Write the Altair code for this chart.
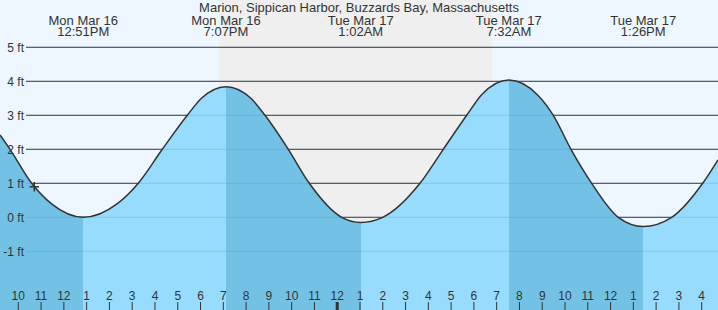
import altair as alt
import pandas as pd

TITLE = "Marion, Sippican Harbor, Buzzards Bay, Massachusetts"

# tide curve: hours since Mon Mar 16 00:00, height in ft
hours = [9.197, 9.636, 10.589, 11.45, 12.85, 14.35, 15.268, 16.322, 17.419, 18.04,
         19.117, 20.21, 20.830, 21.853, 22.775, 24.197, 25.033, 25.997, 27.634,
         28.657, 29.684, 30.33, 31.533, 32.80, 33.486, 34.263, 35.172, 36.339,
         37.433, 38.684, 40.045, 40.716]
heights = [2.42, 2.0, 1.0, 0.4, 0.0, 0.4, 1.0, 2.0, 3.0, 3.5,
           3.84, 3.5, 3.0, 2.0, 1.0, 0.0, -0.15, 0.0, 1.0,
           2.0, 3.0, 3.6, 4.04, 3.6, 3.0, 2.0, 1.0, 0.0,
           -0.27, 0.0, 1.0, 1.69]

event_hours = [12.85, 19.117, 25.033, 31.533, 37.433]
event_heights = [0.0, 3.84, -0.15, 4.04, -0.27]
event_day = ["Mon Mar 16", "Mon Mar 16", "Tue Mar 17", "Tue Mar 17", "Tue Mar 17"]
event_time = ["12:51PM", "7:07PM", "1:02AM", "7:32AM", "1:26PM"]

night_start, night_end = 18.81, 30.826
tick_hours = list(range(10, 41))
feet = [5, 4, 3, 2, 1, 0, -1]
now_hour, now_height = 10.703, 0.90

X_DOMAIN = [9.197, 40.716]
Y_DOMAIN = [-2.726, 6.391]
W, H = 718, 310
FONT = "Liberation Sans"
TXT = "#333333"
DAY = "#EEF7FF"
NIGHT = "#EFEFEF"
LIGHT = "#97DCFD"
DARK = "#73C2E6"

xs = alt.Scale(domain=X_DOMAIN, range=[0, W], nice=False, zero=False)
ys = alt.Scale(domain=Y_DOMAIN, range=[H, 0], nice=False, zero=False)

def X(field):
    return alt.X(field, scale=xs, axis=None)

def Y(field):
    return alt.Y(field, scale=ys, axis=None, stack=None)

curve = pd.DataFrame({"t": hours, "h": heights})

# water fill: darker while the tide falls, lighter while it rises (hard gradient stops
# placed at the high / low water times)
span = hours[-1] - hours[0]
levels = [heights[0]] + event_heights + [heights[-1]]
times = [hours[0]] + event_hours + [hours[-1]]
stops = []
for k in range(len(times) - 1):
    col = DARK if levels[k + 1] < levels[k] else LIGHT
    stops.append(alt.GradientStop(color=col, offset=(times[k] - hours[0]) / span))
    stops.append(alt.GradientStop(color=col, offset=(times[k + 1] - hours[0]) / span))
water_fill = alt.LinearGradient(gradient="linear", stops=stops, x1=0, x2=1, y1=0, y2=0)

bands = pd.DataFrame({
    "start": [X_DOMAIN[0], night_start, night_end],
    "end": [night_start, night_end, X_DOMAIN[1]],
    "fill": [DAY, NIGHT, DAY],
})

grid = pd.DataFrame({"ft": feet, "label": [f"{f} ft" for f in feet]})
ticks = pd.DataFrame({
    "t": tick_hours,
    "label": [str(h % 12 if h % 12 else 12) for h in tick_hours],
    "w": [3 if h % 24 == 0 else 1 for h in tick_hours],
})
events = pd.DataFrame({"t": event_hours,
                       "txt": [f"{d}\n{t}" for d, t in zip(event_day, event_time)]})
now = pd.DataFrame({"t": [now_hour], "h": [now_height]})

bg = alt.Chart(bands).mark_rect().encode(
    x=X("start:Q"), x2="end:Q", y=alt.value(0), y2=alt.value(H),
    color=alt.Color("fill:N", scale=None))

grid_dark = alt.Chart(grid).mark_rule(color=TXT, strokeWidth=1).encode(
    y=Y("ft:Q"), x=alt.value(26), x2=alt.value(W))

water = alt.Chart(curve).mark_area(interpolate="monotone", color=water_fill).encode(
    x=X("t:Q"), y=Y("h:Q"), y2=alt.value(H))

grid_faint = alt.Chart(grid).mark_rule(color="#3a86b8", opacity=0.25, strokeWidth=1).encode(
    y=Y("ft:Q"), x=alt.value(26), x2=alt.value(W))

line = alt.Chart(curve).mark_line(interpolate="monotone", color=TXT, strokeWidth=1.5).encode(
    x=X("t:Q"), y=Y("h:Q"))

ylabels = alt.Chart(grid).mark_text(align="right", baseline="middle", font=FONT,
                                    fontSize=12, color=TXT, dy=1).encode(
    x=alt.value(24), y=Y("ft:Q"), text="label:N")

tickmarks = alt.Chart(ticks).mark_rule(color=TXT).encode(
    x=X("t:Q"), y=alt.value(302), y2=alt.value(H),
    strokeWidth=alt.StrokeWidth("w:Q", scale=None))

ticklabels = alt.Chart(ticks).mark_text(align="center", baseline="alphabetic", font=FONT,
                                        fontSize=12, color=TXT).encode(
    x=X("t:Q"), y=alt.value(299.5), text="label:N")

ev_text = alt.Chart(events).mark_text(align="center", baseline="alphabetic", font=FONT,
                                      fontSize=13, color=TXT, lineBreak="\n",
                                      lineHeight=11).encode(
    x=X("t:Q"), y=alt.value(25), text="txt:N")

title = alt.Chart(pd.DataFrame({"title": [TITLE]})).mark_text(
    align="center", baseline="alphabetic", font=FONT, fontSize=13, color=TXT).encode(
    x=alt.value(359), y=alt.value(12.3), text="title:N")

marker = alt.Chart(now).mark_point(shape="M-1,0L1,0M0,-1L0,1", filled=False, size=90,
                                   color=TXT, strokeWidth=1.5, opacity=1).encode(
    x=X("t:Q"), y=Y("h:Q"))

chart = alt.layer(
    bg, grid_dark, water, grid_faint, line,
    ylabels, tickmarks, ticklabels, ev_text, title, marker
).properties(
    width=W, height=H, padding=0, autosize=alt.AutoSizeParams(type="none"),
    background=DAY
).configure_view(strokeWidth=0)

chart.save("out.html", embed_options={"renderer": "svg", "actions": False})
